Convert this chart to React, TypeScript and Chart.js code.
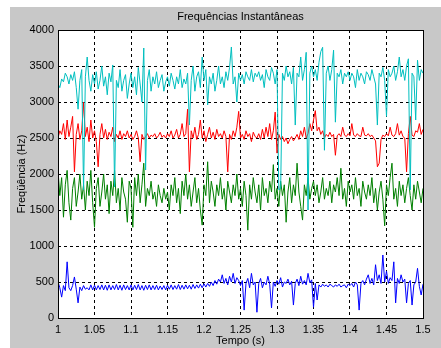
import React, { useEffect, useRef } from "react";
import { Chart, registerables } from "chart.js";

Chart.register(...registerables);

// sampling of the time axis (s)
const T_START = 1;
const T_STEP = 0.0025;

const TITLE = "Frequências Instantâneas";
const X_LABEL = "Tempo (s)";
const Y_LABEL = "Freqüência (Hz)";

const X_TICKS = [1, 1.05, 1.1, 1.15, 1.2, 1.25, 1.3, 1.35, 1.4, 1.45, 1.5];
const Y_TICKS = [0, 500, 1000, 1500, 2000, 2500, 3000, 3500, 4000];

const cyanHz = [
  3250, 3200, 3320, 3280, 3400, 3350, 3250, 3380, 3300, 3420,
  3200, 2900, 3300, 3450, 1780, 3350, 3625, 3300, 3150, 3380,
  3250, 3420, 3180, 3300, 3500, 3220, 3350, 3100, 3400, 3280,
  3514, 1820, 3300, 3200, 3450, 3150, 3300, 3380, 3050, 3250,
  3400, 3200, 3350, 3100, 3480, 3250, 3000, 3750, 2055, 3300,
  3450, 3150, 3350, 3250, 3420, 3200, 3300, 3380, 3150, 3280,
  3350, 3220, 3400, 3300, 3180, 3350, 3250, 3450, 3200, 3320,
  3250, 3400, 2680, 3300, 3500, 3150, 3350, 3420, 3200, 3625,
  3300, 3450, 2960, 3350, 3250, 3400, 3150, 3300, 3500, 3250,
  3350, 3200, 3420, 3300, 3480, 3764, 3250, 3350, 3000, 3400,
  3300, 3380, 3250, 3420, 3350, 3300, 3450, 3280, 3400, 3350,
  3420, 3300, 3380, 3200, 3450, 3350, 3300, 3480, 3400, 3250,
  3450, 1780, 1800, 3400, 3300, 3500, 3350, 3420, 3250, 3480,
  2680, 3400, 3350, 3625, 3300, 3450, 3690, 1500, 3400, 3500,
  3350, 3450, 3300, 3550, 3700, 3760, 2330, 3400, 3500, 3300,
  3450, 3720, 2720, 3400, 3350, 3450, 3250, 3400, 3350, 3420,
  3300, 3400, 3350, 3200, 3450, 3300, 3400, 3350, 3250, 3420,
  3380, 3300, 3450, 3350, 3250, 2680, 3400, 3350, 3480, 3300,
  2800, 3450, 3350, 3400, 3500, 3300, 3420, 3625, 3350, 3450,
  3300, 3500, 3600, 1780, 3400, 3350, 2750, 3580, 3300, 3450,
  3400,
];

const redHz = [
  2500, 2600, 2550, 2700, 2480, 2750, 2520, 2650, 2800, 2030,
  2550, 2700, 2480, 2600, 3000, 2520, 2650, 2450, 2750, 2500,
  2600, 2450, 2100, 2550, 2700, 2500, 2620, 2480, 2580, 2520,
  2650, 2450, 2550, 2500, 2600, 2480, 2560, 2520, 2600, 2500,
  2550, 2480, 2520, 2600, 2500, 2170, 2550, 2480, 2520, 2560,
  2500, 2540, 2520, 2560, 2500, 2530, 2580, 2510, 2540, 2500,
  2560, 2520, 2600, 2500, 2540, 2620, 2500, 2550, 2700, 2520,
  2560, 2900, 2030, 2600, 2500, 2650, 2480, 2550, 2750, 2500,
  2600, 2450, 2550, 2650, 2500, 2580, 2480, 2620, 2520, 2560,
  2500, 2600, 2520, 2030, 2550, 2480, 2600, 2520, 2650, 2870,
  2500, 2550, 2480, 2600, 2520, 2560, 2450, 2580, 2520, 2500,
  2560, 2480, 2620, 2500, 2650, 2520, 2700, 2480, 2600, 2860,
  2290, 2550, 2480, 2520, 2450, 2500, 2420, 2480, 2520, 2460,
  2500, 2550, 2480, 2600, 2520, 2650, 2500, 2560, 2700, 2600,
  2750, 2880, 2600, 2650, 2550, 2600, 2500, 2550, 2520, 2580,
  2520, 2550, 2260, 2530, 2560, 2520, 2650, 2540, 2520, 2560,
  2530, 2700, 2540, 2520, 2560, 2530, 2520, 2650, 2540, 2530,
  2560, 2520, 2540, 2500, 2460, 2100, 2150, 2480, 2540, 2520,
  2560, 2530, 2650, 2540, 2520, 2560, 2700, 2540, 2600, 2520,
  2500, 2030, 2560, 2800, 2540, 2520, 2600, 2580, 2700, 2550,
  2620,
];

const greenHz = [
  2050, 1700, 1950, 1400, 1850, 2050, 1600, 1360, 1800, 1950,
  1550, 1750, 2000, 1650, 1850, 1500, 1900, 1700, 2050, 1600,
  1260, 1800, 1950, 1550, 1750, 2000, 1650, 1850, 1450, 1900,
  1700, 2050, 1600, 1800, 1500, 1950, 1750, 1650, 1330, 1900,
  1800, 1260, 1950, 1700, 2000, 1600, 1850, 2150, 1550, 1800,
  1700, 1900, 1650, 1750, 1550, 1850, 1700, 1600, 1800, 1650,
  1750, 1500, 1850, 1700, 1950, 1600, 1800, 1450, 1900, 1700,
  2000, 1650, 1850, 1550, 1750, 1950, 1600, 1800, 1500, 1290,
  1850, 1700, 2170, 1600, 1900, 1750, 1550, 1850, 1700, 1950,
  1650, 1800, 1500, 1900, 1750, 1600, 1850, 1700, 2000, 1650,
  1800, 1550, 1900, 1700, 1220, 1850, 1650, 1950, 1750, 1600,
  1850, 1500, 1950, 1700, 1800, 1600, 1900, 1750, 2130, 1650,
  1800, 1550, 1900, 1700, 1850, 1330, 1750, 1950, 1600, 1850,
  1700, 2150, 1750, 1550, 1360, 1850, 1700, 1950, 1650, 1800,
  1900, 1700, 1850, 1600, 1750, 1950, 1650, 1800, 1700, 1900,
  1600, 1850, 1750, 1950, 1700, 2080, 1650, 1800, 1550, 1900,
  1750, 1850, 1650, 1950, 1700, 1800, 1550, 1900, 1750, 1650,
  1850, 1700, 1950, 1600, 1800, 1500, 1750, 1900, 1650, 1280,
  1850, 1700, 1950, 2150, 1650, 1800, 1550, 1900, 1700, 1850,
  1600, 1800, 1950, 1700, 1500, 1850, 1650, 1900, 1750, 1600,
  1800,
];

const blueHz = [
  500, 420, 290, 450, 380, 780, 420, 380, 450, 570,
  400, 210, 430, 380, 450, 400, 420, 390, 460, 390,
  455, 390, 450, 395, 460, 390, 455, 385, 460, 390,
  450, 395, 465, 390, 455, 385, 460, 395, 450, 390,
  460, 390, 455, 395, 465, 390, 450, 385, 455, 395,
  460, 390, 450, 395, 455, 390, 445, 395, 450, 390,
  455, 400, 460, 395, 450, 400, 465, 395, 455, 400,
  460, 405, 455, 400, 465, 410, 460, 415, 470, 420,
  475, 430, 480, 440, 500, 450, 520, 470, 540, 500,
  600, 480, 550, 460, 580, 500, 620, 480, 560, 520,
  450, 520, 110, 480, 550, 420, 620, 460, 500, 80,
  480, 550, 420, 500, 460, 580, 470, 140, 500, 440,
  520, 470, 560, 430, 500, 480, 540, 460, 510, 180,
  480, 540, 450, 580, 470, 520, 460, 620, 490, 530,
  150, 480, 250, 460, 430, 470, 440, 460, 430, 470,
  450, 430, 460, 440, 470, 430, 450, 460, 420, 470,
  450, 480, 430, 500, 460, 110, 480, 520, 460, 540,
  600, 480, 550, 460, 740, 520, 600, 480, 875, 500,
  650, 480, 560, 520, 780, 210, 550, 480, 600, 500,
  540, 210, 480, 520, 180, 460, 500, 690, 440, 320,
  470,
];

const FONT = { family: "'Liberation Sans', Arial, Helvetica, sans-serif", size: 11 };

function toPoints(values: number[]) {
  return values.map((v, i) => ({ x: T_START + i * T_STEP, y: v }));
}

const framePlugin = {
  id: "matlabFrame",
  beforeDraw(chart: any) {
    const { ctx, chartArea: a } = chart;
    ctx.save();
    ctx.fillStyle = "#ffffff";
    ctx.fillRect(a.left, a.top, a.right - a.left, a.bottom - a.top);
    ctx.restore();
  },
  afterDraw(chart: any) {
    const { ctx, chartArea: a } = chart;
    ctx.save();
    ctx.strokeStyle = "#000000";
    ctx.lineWidth = 1;
    ctx.strokeRect(Math.round(a.left) + 0.5, Math.round(a.top) + 0.5, Math.round(a.right - a.left), Math.round(a.bottom - a.top));
    ctx.fillStyle = "#000000";
    ctx.font = `${FONT.size}px ${FONT.family}`;
    ctx.textAlign = "center";
    ctx.textBaseline = "middle";
    ctx.fillText(TITLE, (a.left + a.right) / 2, 10);
    ctx.restore();
  },
};

export default function App() {
  const ref = useRef<HTMLCanvasElement | null>(null);

  useEffect(() => {
    if (!ref.current) return;
    const chart = new Chart(ref.current, {
      type: "line",
      data: {
        datasets: [
          { label: "c", data: toPoints(cyanHz), borderColor: "#00bfbf" },
          { label: "r", data: toPoints(redHz), borderColor: "#ff0000" },
          { label: "g", data: toPoints(greenHz), borderColor: "#008000" },
          { label: "b", data: toPoints(blueHz), borderColor: "#0000ff" },
        ].map((d) => ({ ...d, borderWidth: 1, pointRadius: 0, tension: 0, fill: false })),
      },
      options: {
        responsive: false,
        animation: false,
        devicePixelRatio: 1,
        layout: { padding: { top: 23, right: 18, left: 0, bottom: 0 } },
        plugins: { legend: { display: false }, tooltip: { enabled: false }, title: { display: false } },
        scales: {
          x: {
            type: "linear",
            min: 1,
            max: 1.5,
            afterBuildTicks: (s: any) => {
              s.ticks = X_TICKS.map((v) => ({ value: v }));
            },
            afterFit: (s: any) => {
              s.height = 30;
            },
            ticks: {
              color: "#000",
              font: FONT,
              padding: 5,
              maxRotation: 0,
              autoSkip: false,
              callback: (v: any) => String(parseFloat(Number(v).toFixed(2))),
            },
            grid: { color: "#000", drawTicks: false, lineWidth: 1 },
            border: { display: false, dash: [3, 3] },
            title: { display: true, text: X_LABEL, color: "#000", font: FONT, padding: { top: 0, bottom: 0 } },
          },
          y: {
            type: "linear",
            min: 0,
            max: 4000,
            afterBuildTicks: (s: any) => {
              s.ticks = Y_TICKS.map((v) => ({ value: v }));
            },
            afterFit: (s: any) => {
              s.width = 48;
            },
            ticks: {
              color: "#000",
              font: FONT,
              padding: 4,
              autoSkip: false,
              callback: (v: any) => String(v),
            },
            grid: { color: "#000", drawTicks: false, lineWidth: 1 },
            border: { display: false, dash: [3, 3] },
            title: { display: true, text: Y_LABEL, color: "#000", font: FONT, padding: { top: 5, bottom: 0 } },
          },
        },
      },
      plugins: [framePlugin],
    } as any);
    return () => chart.destroy();
  }, []);

  return (
    <div style={{ position: "fixed", left: 0, top: 0, width: 441, height: 348, background: "#ffffff", overflow: "hidden" }}>
      <div style={{ position: "absolute", left: 10, top: 7, width: 431, height: 341, background: "#c8c8c8" }}>
        <canvas ref={ref} width={431} height={341} style={{ display: "block", width: 431, height: 341 }} />
      </div>
    </div>
  );
}
